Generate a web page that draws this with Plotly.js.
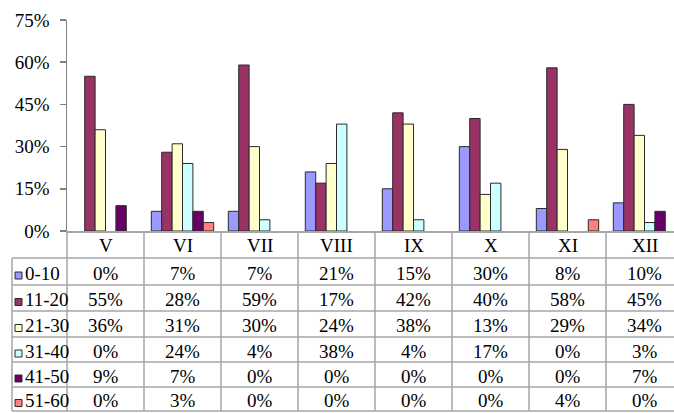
<!DOCTYPE html>
<html>
<head>
<meta charset="utf-8">
<script src="https://cdn.plot.ly/plotly-3.0.1.min.js"></script>
<style>html,body{margin:0;padding:0;background:#fff;}#chart{width:674px;height:413px;}
#chart text{font-family:'Liberation Serif','Times New Roman',serif !important;}</style>
</head>
<body>
<div id="chart"></div>
<script>
// ---- data ----
const months = ['V', 'VI', 'VII', 'VIII', 'IX', 'X', 'XI', 'XII'];
const groups = ['0-10', '11-20', '21-30', '31-40', '41-50', '51-60'];
const colors = ['#9999FF', '#993366', '#FFFFCC', '#CCFFFF', '#660066', '#FF8080'];
const v0_10  = [0, 7, 7, 21, 15, 30, 8, 10];
const v11_20 = [55, 28, 59, 17, 42, 40, 58, 45];
const v21_30 = [36, 31, 30, 24, 38, 13, 29, 34];
const v31_40 = [0, 24, 4, 38, 4, 17, 0, 3];
const v41_50 = [9, 7, 0, 0, 0, 0, 0, 7];
const v51_60 = [0, 3, 0, 0, 0, 0, 4, 0];
const series = [v0_10, v11_20, v21_30, v31_40, v41_50, v51_60];
const yTicks = [0, 15, 30, 45, 60, 75];

// ---- geometry (pixels) ----
const W = 674, H = 413;
const L = 67, T = 20, B = 231;           // plot area
const plotW = W - L, plotH = B - T;
const catW = 77;                          // pixel width of one category
const xMax = -0.5 + plotW / catW;
const legendLeft = 12;
const rowLines = [258, 285, 311, 337, 362, 387, 411];
const FONT = 'Liberation Serif';
const gridColor = '#a6a6a6';

const px2x = p => (p - L) / plotW;
const py2y = p => (B - p) / plotH;

const traces = series.map((vals, i) => ({
  type: 'bar',
  name: groups[i],
  x: months.map((m, j) => j),
  y: vals.map(v => (v === 0 ? null : v)),   // Excel draws nothing for 0%
  marker: {color: colors[i], line: {color: '#2a2a2a', width: 1}},
  hoverinfo: 'skip',
  showlegend: false
}));

const shapes = [];
const annotations = [];

// horizontal table lines
rowLines.forEach(p => shapes.push({
  type: 'line', xref: 'paper', yref: 'paper',
  x0: px2x(legendLeft), x1: 1, y0: py2y(p), y1: py2y(p),
  line: {color: gridColor, width: 1.5}
}));
// left border of legend column
shapes.push({type: 'line', xref: 'paper', yref: 'paper',
  x0: px2x(legendLeft), x1: px2x(legendLeft), y0: py2y(rowLines[0]), y1: py2y(rowLines[rowLines.length - 1]),
  line: {color: gridColor, width: 1.5}});
// y-axis continuation through table
shapes.push({type: 'line', xref: 'paper', yref: 'paper',
  x0: 0, x1: 0, y0: 0, y1: py2y(rowLines[rowLines.length - 1]),
  line: {color: gridColor, width: 1.5}});
// category separators
months.forEach((m, j) => {
  if (j === months.length - 1) return;
  shapes.push({type: 'line', xref: 'x', yref: 'paper',
    x0: j + 0.5, x1: j + 0.5, y0: 0, y1: py2y(rowLines[rowLines.length - 1]),
    line: {color: gridColor, width: 1.5}});
});

// header (months)
months.forEach((m, j) => annotations.push({
  xref: 'x', yref: 'paper', x: j, y: py2y((B + rowLines[0]) / 2 + 1),
  text: m, showarrow: false, xanchor: 'center', yanchor: 'middle',
  font: {family: FONT, size: 19, color: '#000'}
}));

// rows
groups.forEach((g, i) => {
  const top = rowLines[i], bot = rowLines[i + 1];
  const mid = (top + bot) / 2 + 1.5;
  // legend key
  shapes.push({type: 'rect', xref: 'paper', yref: 'paper',
    x0: px2x(15), x1: px2x(22), y0: py2y(mid - 1), y1: py2y(mid + 6),
    fillcolor: colors[i], line: {color: '#2a2a2a', width: 1}});
  annotations.push({xref: 'paper', yref: 'paper', x: px2x(23), y: py2y(mid),
    text: g, showarrow: false, xanchor: 'left', yanchor: 'middle',
    font: {family: FONT, size: 19, color: '#000'}});
  series[i].forEach((v, j) => annotations.push({
    xref: 'x', yref: 'paper', x: j, y: py2y(mid),
    text: v + '%', showarrow: false, xanchor: 'center', yanchor: 'middle',
    font: {family: FONT, size: 19, color: '#000'}
  }));
});

const layout = {
  width: W, height: H,
  margin: {l: L, r: 0, t: T, b: H - B, pad: 0},
  paper_bgcolor: '#fff', plot_bgcolor: '#fff',
  barmode: 'group', bargap: 0.19, bargroupgap: 0,
  xaxis: {
    type: 'linear', range: [-0.5, xMax], showgrid: false, zeroline: false,
    showticklabels: false, ticks: '', showline: true, linecolor: gridColor, linewidth: 1.5,
    fixedrange: true
  },
  yaxis: {
    range: [0, 75], tickvals: yTicks, ticktext: yTicks.map(t => t + '%'),
    showgrid: false, zeroline: false, showline: true, linecolor: '#808080', linewidth: 1.5,
    ticks: 'outside', ticklen: 6, tickcolor: '#808080', tickwidth: 1.5,
    tickfont: {family: FONT, size: 19, color: '#000'}, ticklabelstandoff: 6,
    fixedrange: true
  },
  shapes: shapes,
  annotations: annotations
};

Plotly.newPlot('chart', traces, layout, {staticPlot: true});
</script>
</body>
</html>
